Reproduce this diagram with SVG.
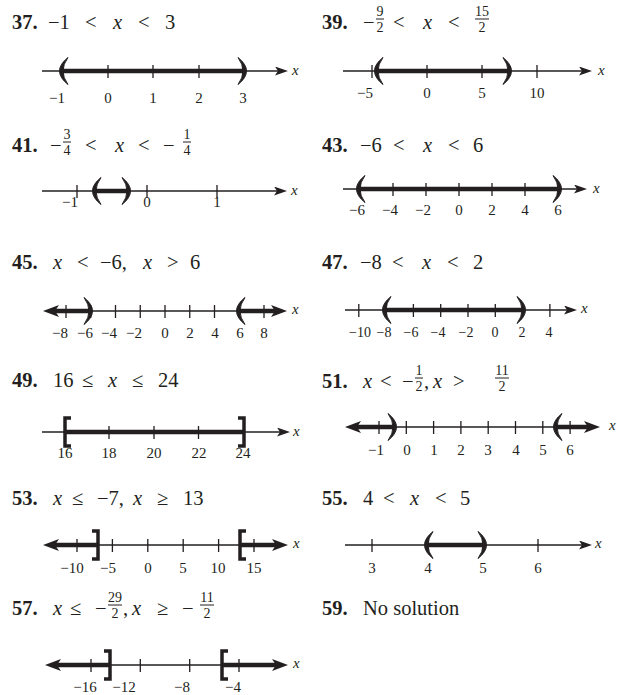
<svg xmlns="http://www.w3.org/2000/svg" xmlns:xlink="http://www.w3.org/1999/xlink" width="617" height="695" viewBox="0 0 617 695">
<style>
.t{font-family:"Liberation Serif","Times New Roman",serif;font-size:20.5px;fill:#231f20}
.n{font-weight:bold}
.i{font-style:italic}
.f{font-size:14px;text-anchor:middle}
.lb{font-family:"Liberation Serif","Times New Roman",serif;font-size:15px;text-anchor:middle;fill:#231f20}
.sm{font-size:14px}
.xl{font-family:"Liberation Serif","Times New Roman",serif;font-size:15px;font-style:italic;fill:#231f20}
.ax{stroke:#231f20;stroke-width:1.5;fill:none}
.bar{stroke:#231f20;stroke-width:4.5;fill:none}
.tk{stroke:#231f20;stroke-width:1.3;fill:none}
.fb{stroke:#231f20;stroke-width:1}
.par{fill:#231f20;stroke:#231f20;stroke-width:1;stroke-linejoin:round}
.br{fill:none;stroke:#231f20;stroke-width:3.5}
</style>
<defs>
<marker id="a" viewBox="0 0 13 9" refX="5" refY="4.5" markerWidth="13" markerHeight="9" markerUnits="userSpaceOnUse" orient="auto-start-reverse"><path d="M0,0 L13,4.5 L0,9 L3,4.5 Z" fill="#231f20"/></marker>
<marker id="b" viewBox="0 0 16 12" refX="7" refY="6" markerWidth="16" markerHeight="12" markerUnits="userSpaceOnUse" orient="auto-start-reverse"><path d="M0,0 L16,6 L0,12 L4,6 Z" fill="#231f20"/></marker>
<path id="lp" class="par" d="M5,-13.5 Q-12,0 5,13.5 Q-5,0 5,-13.5 Z"/>
<path id="rp" class="par" d="M-5,-13.5 Q12,0 -5,13.5 Q5,0 -5,-13.5 Z"/>
<path id="lb" class="br" d="M7,-14 H1 V14 H7"/>
<path id="rb" class="br" d="M-7,-14 H-1 V14 H-7"/>
</defs>

<g id="p37">
<text class="t" y="29"><tspan class="n" x="12">37.</tspan><tspan x="48">−1</tspan><tspan x="85">&lt;</tspan><tspan class="i" x="113">x</tspan><tspan x="138">&lt;</tspan><tspan x="165">3</tspan></text>
<line class="ax" x1="42" y1="71" x2="280" y2="71" marker-end="url(#a)"/>
<path class="tk" d="M63,65v13M108,65v13M153,65v13M199,65v13M243,65v13"/>
<line class="bar" x1="63" y1="71" x2="243" y2="71"/>
<use href="#lp" x="63" y="71"/><use href="#rp" x="243" y="71"/>
<g class="lb"><text x="57" y="103">−1</text><text x="108" y="103">0</text><text x="153" y="103">1</text><text x="199" y="103">2</text><text x="243" y="103">3</text></g>
<text class="xl" x="292" y="75">x</text>
</g>

<g id="p39">
<text class="t" y="29"><tspan class="n" x="322">39.</tspan><tspan x="363">−</tspan><tspan x="393">&lt;</tspan><tspan class="i" x="423">x</tspan><tspan x="448">&lt;</tspan></text>
<text class="t f" x="380" y="16">9</text><line class="fb" x1="376" y1="19" x2="384" y2="19"/><text class="t f" x="380" y="32">2</text>
<text class="t f" x="482" y="16">15</text><line class="fb" x1="475" y1="19" x2="489" y2="19"/><text class="t f" x="482" y="32">2</text>
<line class="ax" x1="343" y1="71" x2="584" y2="71" marker-end="url(#a)"/>
<path class="tk" d="M372,65v13M427,65v13M482,65v13M537,65v13"/>
<line class="bar" x1="378" y1="71" x2="508" y2="71"/>
<use href="#lp" x="378" y="71"/><use href="#rp" x="508" y="71"/>
<g class="lb"><text x="365" y="98">−5</text><text x="427" y="98">0</text><text x="482" y="98">5</text><text x="537" y="98">10</text></g>
<text class="xl" x="598" y="75">x</text>
</g>

<g id="p41">
<text class="t" y="152"><tspan class="n" x="12">41.</tspan><tspan x="50">−</tspan><tspan x="85">&lt;</tspan><tspan class="i" x="115">x</tspan><tspan x="138">&lt;</tspan><tspan x="163">−</tspan></text>
<text class="t f" x="67" y="139">3</text><line class="fb" x1="63" y1="142" x2="71" y2="142"/><text class="t f" x="67" y="155">4</text>
<text class="t f" x="187" y="139">1</text><line class="fb" x1="183" y1="142" x2="191" y2="142"/><text class="t f" x="187" y="155">4</text>
<line class="ax" x1="42" y1="191" x2="279" y2="191" marker-end="url(#a)"/>
<path class="tk" d="M77,185v13M147,185v13M217,185v13"/>
<line class="bar" x1="96" y1="191" x2="127" y2="191"/>
<use href="#lp" x="96" y="191"/><use href="#rp" x="127" y="191"/>
<g class="lb"><text x="70" y="207">−1</text><text x="147" y="207">0</text><text x="217" y="207">1</text></g>
<text class="xl" x="291" y="195">x</text>
</g>

<g id="p43">
<text class="t" y="152"><tspan class="n" x="322">43.</tspan><tspan x="360">−6</tspan><tspan x="393">&lt;</tspan><tspan class="i" x="423">x</tspan><tspan x="448">&lt;</tspan><tspan x="473">6</tspan></text>
<line class="ax" x1="343" y1="189" x2="579" y2="189" marker-end="url(#a)"/>
<path class="tk" d="M360,183v13M393,183v13M426,183v13M459,183v13M492,183v13M525,183v13M558,183v13"/>
<line class="bar" x1="360" y1="189" x2="558" y2="189"/>
<use href="#lp" x="360" y="189"/><use href="#rp" x="558" y="189"/>
<g class="lb"><text x="357" y="215">−6</text><text x="390" y="215">−4</text><text x="423" y="215">−2</text><text x="459" y="215">0</text><text x="492" y="215">2</text><text x="525" y="215">4</text><text x="558" y="215">6</text></g>
<text class="xl" x="593" y="193">x</text>
</g>

<g id="p45">
<text class="t" y="269"><tspan class="n" x="12">45.</tspan><tspan class="i" x="53">x</tspan><tspan x="77">&lt;</tspan><tspan x="100">−6,</tspan><tspan class="i" x="143">x</tspan><tspan x="167">&gt;</tspan><tspan x="190">6</tspan></text>
<line class="ax" x1="52" y1="311" x2="278" y2="311"/>
<path class="tk" d="M66,305v13M90.75,305v13M115.5,305v13M140.25,305v13M165,305v13M189.75,305v13M214.5,305v13M239.25,305v13M264,305v13"/>
<line class="bar" x1="89" y1="311" x2="52" y2="311" marker-end="url(#b)"/>
<line class="bar" x1="240" y1="311" x2="278" y2="311" marker-end="url(#b)"/>
<use href="#rp" x="89" y="311"/><use href="#lp" x="240" y="311"/>
<g class="lb"><text x="60" y="338">−8</text><text x="85" y="338">−6</text><text x="109" y="338">−4</text><text x="134" y="338">−2</text><text x="165" y="338">0</text><text x="190" y="338">2</text><text x="215" y="338">4</text><text x="240" y="338">6</text><text x="264" y="338">8</text></g>
<text class="xl" x="292" y="314">x</text>
</g>

<g id="p47">
<text class="t" y="269"><tspan class="n" x="322">47.</tspan><tspan x="360">−8</tspan><tspan x="392">&lt;</tspan><tspan class="i" x="422">x</tspan><tspan x="447">&lt;</tspan><tspan x="473">2</tspan></text>
<line class="ax" x1="345" y1="310" x2="569" y2="310" marker-end="url(#a)"/>
<path class="tk" d="M358.8,304v13M386.1,304v13M413.4,304v13M440.7,304v13M468,304v13M495.3,304v13M522.6,304v13M549.9,304v13"/>
<line class="bar" x1="386" y1="310" x2="522" y2="310"/>
<use href="#lp" x="386" y="310"/><use href="#rp" x="522" y="310"/>
<g class="lb sm"><text x="360" y="337">−10</text><text x="384" y="337">−8</text><text x="411" y="337">−6</text><text x="438" y="337">−4</text><text x="466" y="337">−2</text><text x="495" y="337">0</text><text x="522" y="337">2</text><text x="549" y="337">4</text></g>
<text class="xl" x="581" y="313">x</text>
</g>

<g id="p49">
<text class="t" y="387"><tspan class="n" x="12">49.</tspan><tspan x="53">16</tspan><tspan x="82">≤</tspan><tspan class="i" x="108">x</tspan><tspan x="132">≤</tspan><tspan x="158">24</tspan></text>
<line class="ax" x1="42" y1="432" x2="282" y2="432" marker-end="url(#a)"/>
<path class="tk" d="M109,426v13M154,426v13M198.5,426v13"/>
<line class="bar" x1="65" y1="432" x2="243" y2="432"/>
<use href="#lb" x="64" y="432"/><use href="#rb" x="245" y="432"/>
<g class="lb"><text x="65" y="458">16</text><text x="109" y="458">18</text><text x="154" y="458">20</text><text x="199" y="458">22</text><text x="243" y="458">24</text></g>
<text class="xl" x="293" y="436">x</text>
</g>

<g id="p51">
<text class="t" y="388"><tspan class="n" x="322">51.</tspan><tspan class="i" x="363">x</tspan><tspan x="380">&lt;</tspan><tspan x="402">−</tspan><tspan x="424">,</tspan><tspan class="i" x="433">x</tspan><tspan x="453">&gt;</tspan></text>
<text class="t f" x="419" y="375">1</text><line class="fb" x1="415" y1="378" x2="423" y2="378"/><text class="t f" x="419" y="391">2</text>
<text class="t f" x="502" y="375">11</text><line class="fb" x1="495" y1="378" x2="509" y2="378"/><text class="t f" x="502" y="391">2</text>
<line class="ax" x1="354" y1="427" x2="591" y2="427"/>
<path class="tk" d="M379,421v13M406.3,421v13M433.6,421v13M460.9,421v13M488.2,421v13M515.5,421v13M542.8,421v13M570.1,421v13"/>
<line class="bar" x1="393" y1="427" x2="354" y2="427" marker-end="url(#b)"/>
<line class="bar" x1="557" y1="427" x2="591" y2="427" marker-end="url(#b)"/>
<use href="#rp" x="393" y="427"/><use href="#lp" x="557" y="427"/>
<g class="lb"><text x="376" y="455">−1</text><text x="407" y="455">0</text><text x="434" y="455">1</text><text x="461" y="455">2</text><text x="488" y="455">3</text><text x="516" y="455">4</text><text x="543" y="455">5</text><text x="570" y="455">6</text></g>
<text class="xl" x="609" y="430">x</text>
</g>

<g id="p53">
<text class="t" y="505"><tspan class="n" x="12">53.</tspan><tspan class="i" x="53">x</tspan><tspan x="72">≤</tspan><tspan x="97">−7,</tspan><tspan class="i" x="133">x</tspan><tspan x="157">≥</tspan><tspan x="183">13</tspan></text>
<line class="ax" x1="52" y1="545" x2="279" y2="545"/>
<path class="tk" d="M77,539v13M112.4,539v13M147.8,539v13M183.2,539v13M218.6,539v13M254,539v13"/>
<line class="bar" x1="98" y1="545" x2="52" y2="545" marker-end="url(#b)"/>
<line class="bar" x1="240" y1="545" x2="279" y2="545" marker-end="url(#b)"/>
<use href="#rb" x="99" y="545"/><use href="#lb" x="239" y="545"/>
<g class="lb"><text x="72" y="573">−10</text><text x="108" y="573">−5</text><text x="148" y="573">0</text><text x="183" y="573">5</text><text x="218" y="573">10</text><text x="254" y="573">15</text></g>
<text class="xl" x="293" y="548">x</text>
</g>

<g id="p55">
<text class="t" y="505"><tspan class="n" x="322">55.</tspan><tspan x="363">4</tspan><tspan x="383">&lt;</tspan><tspan class="i" x="410">x</tspan><tspan x="435">&lt;</tspan><tspan x="460">5</tspan></text>
<line class="ax" x1="345" y1="545" x2="584" y2="545" marker-end="url(#a)"/>
<path class="tk" d="M372,539v13M428,539v13M483,539v13M538,539v13"/>
<line class="bar" x1="428" y1="545" x2="483" y2="545"/>
<use href="#lp" x="428" y="545"/><use href="#rp" x="483" y="545"/>
<g class="lb"><text x="372" y="573">3</text><text x="428" y="573">4</text><text x="483" y="573">5</text><text x="538" y="573">6</text></g>
<text class="xl" x="595" y="548">x</text>
</g>

<g id="p57">
<text class="t" y="615"><tspan class="n" x="12">57.</tspan><tspan class="i" x="53">x</tspan><tspan x="70">≤</tspan><tspan x="95">−</tspan><tspan x="123">,</tspan><tspan class="i" x="132">x</tspan><tspan x="157">≥</tspan><tspan x="182">−</tspan></text>
<text class="t f" x="115" y="602">29</text><line class="fb" x1="108" y1="605" x2="122" y2="605"/><text class="t f" x="115" y="618">2</text>
<text class="t f" x="207" y="602">11</text><line class="fb" x1="200" y1="605" x2="214" y2="605"/><text class="t f" x="207" y="618">2</text>
<line class="ax" x1="54" y1="665" x2="279" y2="665"/>
<path class="tk" d="M91,659v13M140.3,659v13M189.7,659v13M239,659v13"/>
<line class="bar" x1="110" y1="665" x2="54" y2="665" marker-end="url(#b)"/>
<line class="bar" x1="222" y1="665" x2="279" y2="665" marker-end="url(#b)"/>
<use href="#rb" x="111" y="665"/><use href="#lb" x="221" y="665"/>
<g class="lb"><text x="85" y="692">−16</text><text x="124" y="692">−12</text><text x="182" y="692">−8</text><text x="233" y="692">−4</text></g>
<text class="xl" x="293" y="668">x</text>
</g>

<g id="p59">
<text class="t" y="615"><tspan class="n" x="322">59.</tspan><tspan x="363">No solution</tspan></text>
</g>
</svg>
